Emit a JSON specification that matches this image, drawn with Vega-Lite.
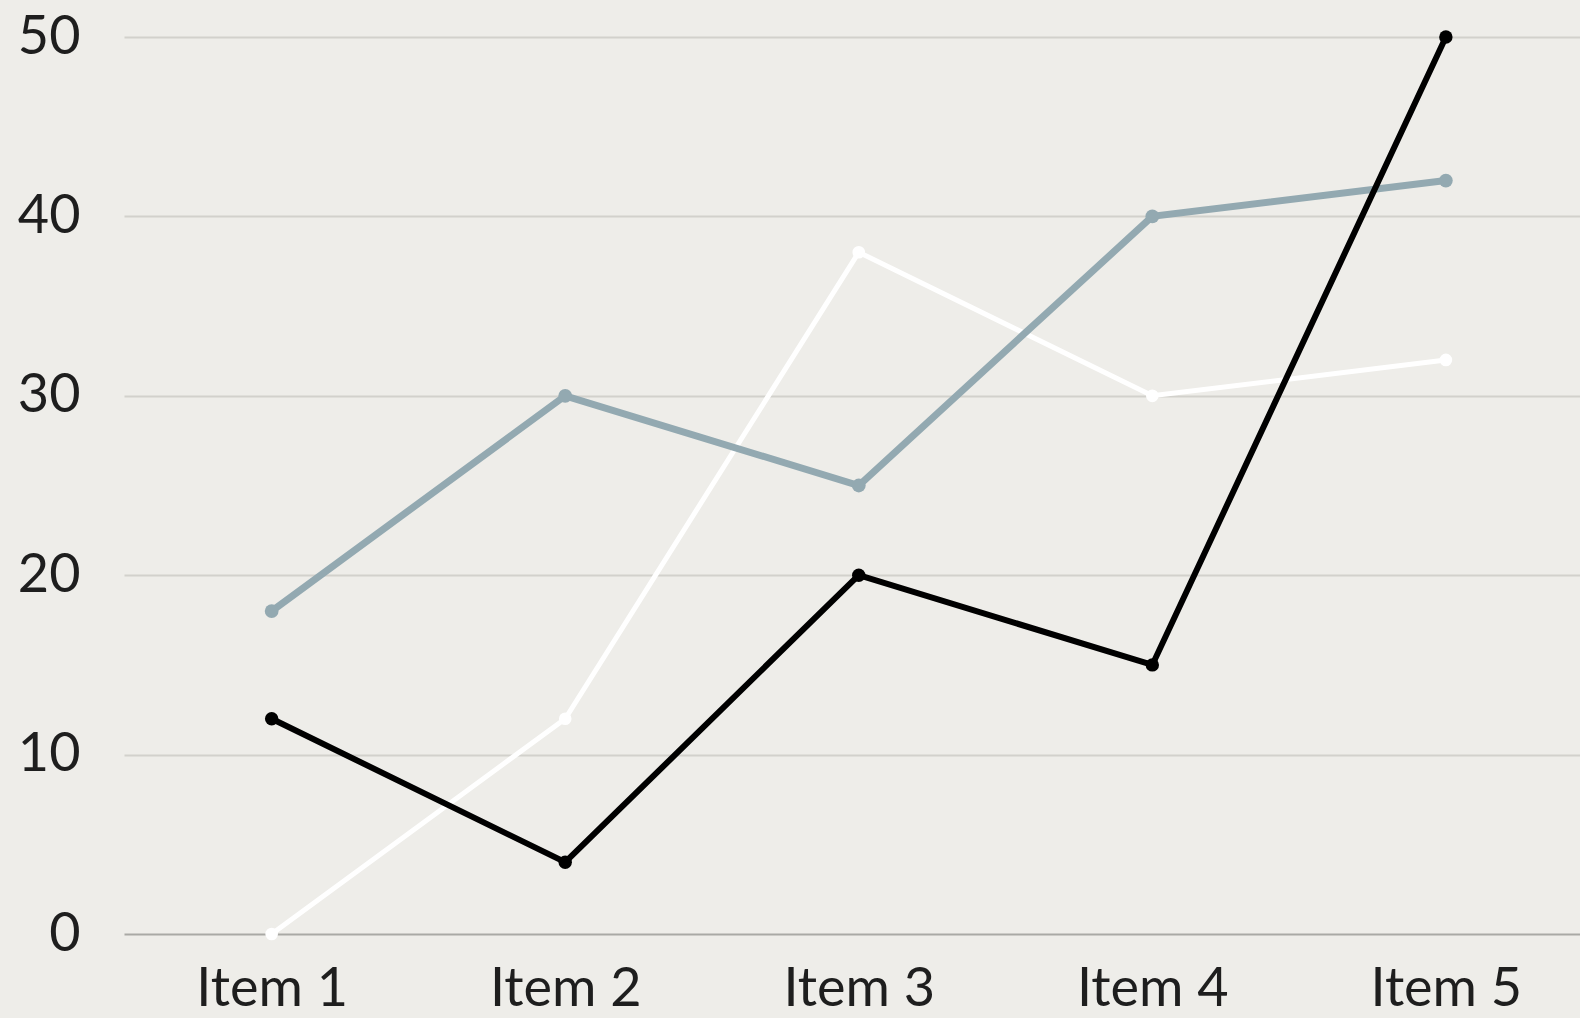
{
  "$schema": "https://vega.github.io/schema/vega-lite/v6.json",
  "width": 1456,
  "height": 897,
  "autosize": {"type": "none"},
  "padding": {"left": 124, "top": 37, "right": 0, "bottom": 84},
  "background": "#eeede9",
  "config": {
    "view": {"stroke": null},
    "font": "Lato",
    "axis": {"labelFont": "Lato", "labelFontSize": 54, "labelColor": "#1e1e1e", "domain": false, "ticks": false, "title": null}
  },
  "data": {
    "values": [
      {"item": "Item 1", "series": "Series 3", "value": 0},
      {"item": "Item 2", "series": "Series 3", "value": 12},
      {"item": "Item 3", "series": "Series 3", "value": 38},
      {"item": "Item 4", "series": "Series 3", "value": 30},
      {"item": "Item 5", "series": "Series 3", "value": 32},
      {"item": "Item 1", "series": "Series 2", "value": 18},
      {"item": "Item 2", "series": "Series 2", "value": 30},
      {"item": "Item 3", "series": "Series 2", "value": 25},
      {"item": "Item 4", "series": "Series 2", "value": 40},
      {"item": "Item 5", "series": "Series 2", "value": 42},
      {"item": "Item 1", "series": "Series 1", "value": 12},
      {"item": "Item 2", "series": "Series 1", "value": 4},
      {"item": "Item 3", "series": "Series 1", "value": 20},
      {"item": "Item 4", "series": "Series 1", "value": 15},
      {"item": "Item 5", "series": "Series 1", "value": 50}
    ]
  },
  "encoding": {
    "x": {
      "field": "item", "type": "ordinal",
      "scale": {"type": "point", "padding": 0.48, "align": 0.524},
      "axis": {"labelAngle": 0, "labelPadding": 28, "grid": false}
    },
    "y": {
      "field": "value", "type": "quantitative",
      "scale": {"domain": [0, 50], "nice": false},
      "axis": {
        "values": [0, 10, 20, 30, 40, 50],
        "labelPadding": 44,
        "grid": true,
        "gridWidth": 2,
        "gridColor": {"condition": {"test": "datum.value === 0", "value": "#a9a9a5"}, "value": "#d2d1cc"}
      }
    }
  },
  "layer": [
    {"transform": [{"filter": "datum.series === 'Series 3'"}], "mark": {"type": "line", "color": "#ffffff", "strokeWidth": 5, "clip": false}},
    {"transform": [{"filter": "datum.series === 'Series 3'"}], "mark": {"type": "point", "filled": true, "opacity": 1, "color": "#ffffff", "size": 160, "clip": false}},
    {"transform": [{"filter": "datum.series === 'Series 2'"}], "mark": {"type": "line", "color": "#93a9b1", "strokeWidth": 7, "clip": false}},
    {"transform": [{"filter": "datum.series === 'Series 2'"}], "mark": {"type": "point", "filled": true, "opacity": 1, "color": "#93a9b1", "size": 190, "clip": false}},
    {"transform": [{"filter": "datum.series === 'Series 1'"}], "mark": {"type": "line", "color": "#000000", "strokeWidth": 6, "clip": false}},
    {"transform": [{"filter": "datum.series === 'Series 1'"}], "mark": {"type": "point", "filled": true, "opacity": 1, "color": "#000000", "size": 180, "clip": false}}
  ]
}
